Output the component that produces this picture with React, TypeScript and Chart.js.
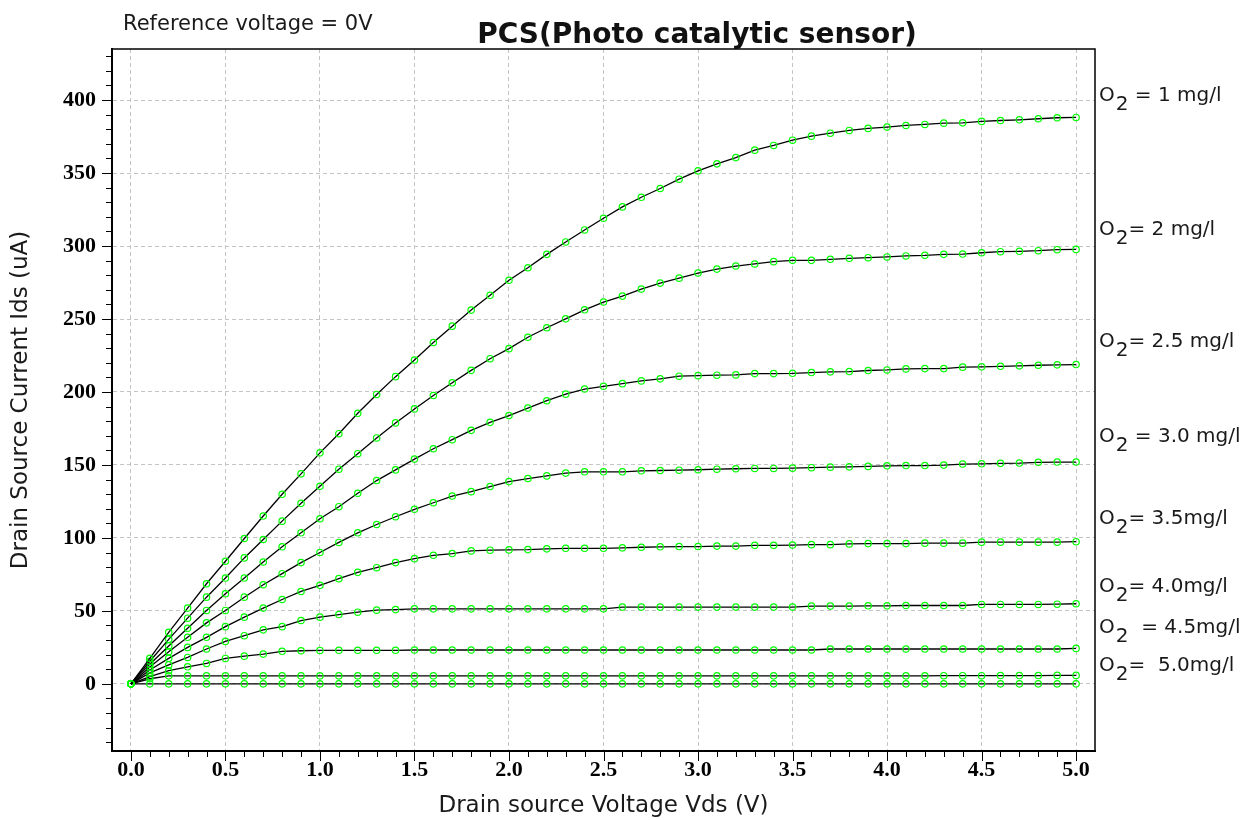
import { useEffect, useRef } from 'react';
import { Chart, registerables } from 'chart.js';

Chart.register(...registerables);

// Drain-source voltage (V)
const vds = [
  0, 0.1, 0.2, 0.3, 0.4, 0.5, 0.6, 0.7, 0.8, 0.9,
  1.0, 1.1, 1.2, 1.3, 1.4, 1.5, 1.6, 1.7, 1.8, 1.9,
  2.0, 2.1, 2.2, 2.3, 2.4, 2.5, 2.6, 2.7, 2.8, 2.9,
  3.0, 3.1, 3.2, 3.3, 3.4, 3.5, 3.6, 3.7, 3.8, 3.9,
  4.0, 4.1, 4.2, 4.3, 4.4, 4.5, 4.6, 4.7, 4.8, 4.9, 5.0,
];

// Drain-source current (uA) per O2 concentration
const ids_o2_1 = [
  0, 17.5, 35.3, 51.9, 68.6, 84, 99.6, 115, 129.9, 143.9,
  158.3, 171.4, 185.4, 198.3, 210.5, 221.9, 233.9, 245.1, 256.1, 266.2,
  276.5, 285.1, 294.3, 302.8, 311, 319, 326.8, 333.4, 339.4, 345.8,
  351.5, 356.3, 360.6, 365.7, 368.9, 372.5, 375.3, 377.3, 379.2, 380.6,
  381.5, 382.6, 383.3, 384.2, 384.4, 385.4, 386, 386.5, 387.2, 387.9, 388.1,
];
const ids_o2_2 = [
  0, 15.5, 30.5, 45, 59.4, 72.5, 86.3, 98.9, 111.5, 123.7,
  135.4, 147.1, 157.7, 168.5, 178.8, 188.4, 197.6, 206.3, 214.8, 222.8,
  229.7, 237.5, 244, 250.1, 256.3, 261.6, 265.7, 270.5, 274.6, 278,
  281.5, 284.2, 286.3, 287.7, 289.3, 290.2, 290.2, 290.9, 291.6, 292,
  292.5, 293.2, 293.6, 294.3, 294.5, 295.4, 296.1, 296.4, 296.8, 297.5, 297.7,
];
const ids_o2_2_5 = [
  0, 13.5, 26, 38.1, 50.3, 61.7, 72.5, 83.5, 93.9, 103.5,
  113.1, 121.4, 130.6, 139.3, 146.6, 154, 161.1, 167.3, 173.7, 179.2,
  183.8, 189, 194, 198.5, 202, 203.9, 205.7, 207.6, 209, 210.8,
  211.2, 211.5, 211.7, 212.6, 212.6, 212.8, 213.3, 213.8, 214, 214.7,
  215.1, 215.8, 216, 216, 217, 217.2, 217.6, 217.9, 218.3, 218.6, 218.8,
];
const ids_o2_3_0 = [
  0, 11.5, 22, 31.9, 41.8, 50.3, 59.4, 67.9, 75.5, 83.1,
  90, 96.9, 103.5, 109.2, 114.5, 119.6, 124.1, 128.7, 131.7, 135.2,
  138.6, 140.7, 142.5, 144.4, 145.3, 145.3, 145.3, 146, 146.2, 146.4,
  146.7, 147.1, 147.4, 147.6, 147.6, 147.8, 148.1, 148.5, 148.7, 149,
  149.4, 149.6, 149.6, 149.9, 150.6, 150.8, 151.1, 151.3, 151.8, 152, 152,
];
const ids_o2_3_5 = [
  0, 9.5, 17.5, 25, 31.9, 39.2, 45.7, 51.9, 57.8, 63.3,
  67.5, 72.1, 76.4, 79.6, 83.1, 85.8, 88.1, 89.3, 91.1, 91.6,
  91.8, 92, 92.5, 92.9, 92.9, 92.9, 93.2, 93.6, 93.9, 94.1,
  94.1, 94.4, 94.4, 94.9, 94.9, 95.1, 95.4, 95.4, 95.9, 96.1,
  96.1, 96.1, 96.4, 96.4, 96.4, 97.1, 97.1, 97.1, 97.1, 97.1, 97.4,
];
const ids_o2_4_0 = [
  0, 7.5, 13, 18.1, 23.9, 29.1, 33, 37, 39.2, 43.4,
  45.7, 47.5, 49.1, 50.5, 50.9, 51.4, 51.4, 51.4, 51.4, 51.4,
  51.4, 51.4, 51.4, 51.4, 51.4, 51.4, 52.6, 52.6, 52.6, 52.6,
  52.6, 52.6, 52.6, 52.6, 52.6, 52.6, 53.3, 53.3, 53.3, 53.5,
  53.5, 53.7, 53.7, 53.7, 53.7, 54.4, 54.4, 54.4, 54.4, 54.6, 54.9,
];
const ids_o2_4_5 = [
  0, 5, 9, 11.7, 14, 17.4, 19, 20.4, 22.3, 22.7,
  22.9, 23, 23, 23, 23, 23.2, 23.2, 23.2, 23.2, 23.2,
  23.2, 23.2, 23.2, 23.2, 23.2, 23.2, 23.2, 23.2, 23.2, 23.2,
  23.2, 23.2, 23.2, 23.2, 23.2, 23.2, 23.2, 23.9, 23.9, 23.9,
  23.9, 23.9, 23.9, 23.9, 23.9, 23.9, 23.9, 23.9, 23.9, 23.9, 24.3,
];
const ids_o2_5_0 = [
  0, 3.5, 5.5, 5.5, 5.5, 5.5, 5.5, 5.5, 5.5, 5.5,
  5.5, 5.5, 5.5, 5.5, 5.5, 5.5, 5.5, 5.5, 5.5, 5.5,
  5.5, 5.5, 5.5, 5.5, 5.5, 5.5, 5.5, 5.5, 5.5, 5.5,
  5.5, 5.5, 5.5, 5.5, 5.5, 5.5, 5.5, 5.5, 5.5, 5.5,
  5.5, 5.5, 5.5, 5.6, 5.6, 5.6, 5.7, 5.7, 5.7, 5.8, 5.8,
];
const ids_baseline = [
  0, 0, 0, 0, 0, 0, 0, 0, 0, 0,
  0, 0, 0, 0, 0, 0, 0, 0, 0, 0,
  0, 0, 0, 0, 0, 0, 0, 0, 0, 0,
  0, 0, 0, 0, 0, 0, 0, 0, 0, 0,
  0, 0, 0, 0, 0, 0, 0, 0, 0, 0, 0,
];

const seriesNames = [
  'O2 = 1 mg/l', 'O2 = 2 mg/l', 'O2 = 2.5 mg/l', 'O2 = 3.0 mg/l',
  'O2 = 3.5 mg/l', 'O2 = 4.0 mg/l', 'O2 = 4.5 mg/l', 'O2 = 5.0 mg/l', 'baseline',
];
const seriesValues = [
  ids_o2_1, ids_o2_2, ids_o2_2_5, ids_o2_3_0, ids_o2_3_5,
  ids_o2_4_0, ids_o2_4_5, ids_o2_5_0, ids_baseline,
];

// Tick labels
const xTickValues = [0, 0.5, 1.0, 1.5, 2.0, 2.5, 3.0, 3.5, 4.0, 4.5, 5.0];
const yTickValues = [0, 50, 100, 150, 200, 250, 300, 350, 400];

// Right-side annotations (text after the "O" + subscript "2") and their value level
const o2LabelRest = [
  ' = 1 mg/l', '= 2 mg/l', '= 2.5 mg/l', ' = 3.0 mg/l',
  '= 3.5mg/l', '= 4.0mg/l', '  = 4.5mg/l', '=  5.0mg/l',
];
const o2LabelLevel = [403, 311, 234.5, 169.3, 113, 66.3, 38.5, 12.4];

const SANS = '"DejaVu Sans", "Liberation Sans", sans-serif';
const SERIF = '"Liberation Serif", "DejaVu Serif", serif';

const decorPlugin = {
  id: 'decor',
  afterDraw(chart: any) {
    const { ctx, chartArea: a, scales } = chart;
    const xs = scales.x;
    const ys = scales.y;
    ctx.save();

    // top and right frame
    ctx.strokeStyle = '#000';
    ctx.lineWidth = 1.5;
    ctx.beginPath();
    ctx.moveTo(a.left, a.top);
    ctx.lineTo(a.right, a.top);
    ctx.lineTo(a.right, a.bottom);
    ctx.stroke();

    // tick marks (major + minor)
    ctx.lineWidth = 1;
    ctx.beginPath();
    for (let k = -4; k <= 43; k++) {
      const v = k * 10;
      const py = Math.round(ys.getPixelForValue(v)) + 0.5;
      const len = k % 5 === 0 ? 10 : 6;
      ctx.moveTo(a.left - len, py);
      ctx.lineTo(a.left, py);
    }
    for (let k = 0; k <= 50; k++) {
      const v = k / 10;
      const px = Math.round(xs.getPixelForValue(v)) + 0.5;
      const len = k % 5 === 0 ? 10 : 6;
      ctx.moveTo(px, a.bottom);
      ctx.lineTo(px, a.bottom + len);
    }
    ctx.stroke();

    // title
    ctx.fillStyle = '#111';
    ctx.font = `bold 28px ${SANS}`;
    ctx.textAlign = 'center';
    ctx.textBaseline = 'alphabetic';
    ctx.fillText('PCS(Photo catalytic sensor)', 697, 43);

    // reference voltage note
    ctx.fillStyle = '#1a1a1a';
    ctx.font = `21px ${SANS}`;
    ctx.textAlign = 'left';
    ctx.fillText('Reference voltage = 0V', 123, 29.5);

    // O2 labels
    ctx.font = `20px ${SANS}`;
    ctx.textBaseline = 'middle';
    const x0 = a.right + 4;
    o2LabelRest.forEach((rest, i) => {
      const py = ys.getPixelForValue(o2LabelLevel[i]);
      ctx.fillText('O', x0, py);
      const wO = ctx.measureText('O').width;
      ctx.fillText('2', x0 + wO + 1, py + 9);
      const w2 = ctx.measureText('2').width;
      ctx.fillText(rest, x0 + wO + 1 + w2, py);
    });

    ctx.restore();
  },
};

export default function App() {
  const ref = useRef<HTMLCanvasElement>(null);

  useEffect(() => {
    if (!ref.current) return;
    const datasets = seriesValues.map((vals, si) => ({
      label: seriesNames[si],
      data: vds.map((x, i) => ({ x, y: vals[i] })),
      borderColor: '#000',
      borderWidth: 1.3,
      tension: 0,
      pointStyle: 'circle' as const,
      pointRadius: 3.2,
      pointBorderWidth: 1.2,
      pointBorderColor: '#00ff00',
      pointBackgroundColor: 'rgba(0,0,0,0)',
      fill: false,
    }));

    const chart = new Chart(ref.current, {
      type: 'line',
      data: { datasets },
      plugins: [decorPlugin],
      options: {
        responsive: false,
        animation: false,
        events: [],
        layout: { padding: { left: 0, top: 49, right: 149, bottom: 0 } },
        plugins: {
          legend: { display: false },
          tooltip: { enabled: false },
          title: { display: false },
        },
        scales: {
          x: {
            type: 'linear',
            min: -0.1,
            max: 5.1,
            afterBuildTicks: (axis: any) => {
              axis.ticks = xTickValues.map((v) => ({ value: v }));
            },
            afterFit: (scale: any) => {
              scale.height = 69;
            },
            ticks: {
              autoSkip: false,
              maxRotation: 0,
              padding: 6,
              color: '#000',
              font: { family: SERIF, size: 22, weight: 'bold' },
              callback: (v: any) => Number(v).toFixed(1),
            },
            grid: {
              color: '#c4c4c4',
              lineWidth: 1,
              drawTicks: false,
            },
            border: { display: true, color: '#000', width: 2, dash: [4, 3] },
            title: {
              display: true,
              text: 'Drain source Voltage Vds (V)',
              color: '#1a1a1a',
              font: { family: SANS, size: 23, weight: 'normal' },
              padding: { top: 0, bottom: 0 },
            },
          },
          y: {
            type: 'linear',
            min: -46,
            max: 435,
            afterBuildTicks: (axis: any) => {
              axis.ticks = yTickValues.map((v) => ({ value: v }));
            },
            afterFit: (scale: any) => {
              scale.width = 112;
            },
            ticks: {
              autoSkip: false,
              padding: 16,
              color: '#000',
              font: { family: SERIF, size: 22, weight: 'bold' },
              callback: (v: any) => String(v),
            },
            grid: {
              color: '#c4c4c4',
              lineWidth: 1,
              drawTicks: false,
            },
            border: { display: true, color: '#000', width: 2, dash: [4, 3] },
            title: {
              display: true,
              text: 'Drain Source Current Ids (uA)',
              color: '#1a1a1a',
              font: { family: SANS, size: 23, weight: 'normal' },
              padding: { top: 7, bottom: 0 },
            },
          },
        },
      },
    } as any);

    return () => chart.destroy();
  }, []);

  return (
    <div style={{ position: 'fixed', left: 0, top: 0, width: 1244, height: 820, background: '#fff' }}>
      <canvas ref={ref} width={1244} height={820} style={{ display: 'block', width: 1244, height: 820 }} />
    </div>
  );
}
